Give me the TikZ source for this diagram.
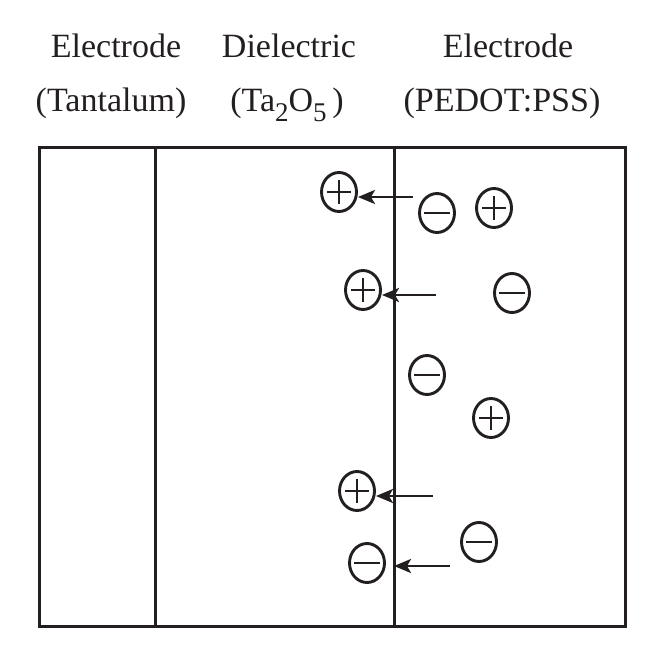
\documentclass[tikz,border=0pt]{standalone}
\usepackage{fontspec}
\setmainfont{Liberation Serif}
\usetikzlibrary{shapes.geometric,arrows.meta}
\definecolor{ink}{HTML}{231F20}
\begin{document}
\begin{tikzpicture}[x=1pt,y=-1pt,
  lbl/.style={anchor=base,inner sep=0,text=ink,font=\fontsize{34}{40}\selectfont},
  frame/.style={draw=ink,line width=3pt},
  ion/.style={ellipse,draw=ink,line width=2.9pt,minimum width=35pt,minimum height=39pt,inner sep=0},
  posion/.style={ion,path picture={
      \draw[ink,line width=2.9pt] ([xshift=-12pt]path picture bounding box.center) -- ++(24,0);
      \draw[ink,line width=2.9pt] ([yshift=-12pt]path picture bounding box.center) -- ++(0,-24);}},
  negion/.style={ion,path picture={
      \draw[ink,line width=2.9pt] ([xshift=-13pt]path picture bounding box.center) -- ++(26,0);}},
  arr/.style={draw=ink,line width=2.8pt,-{Stealth[length=17pt,width=14pt,inset=4pt]}}]
\useasboundingbox (0,0) rectangle (659,660);
% labels
\node[lbl] (t1) at (116,58) {Electrode};
\node[lbl] (t2) at (289,58) {Dielectric};
\node[lbl] (t3) at (508,58) {Electrode};
\node[lbl] (s1) at (111,112) {(Tantalum)};
\node[lbl] (s2) at (287,112) {(Ta\raisebox{-0.28em}{\fontsize{27}{27}\selectfont 2}O\raisebox{-0.28em}{\fontsize{27}{27}\selectfont 5}\,)};
\node[lbl] (s3) at (502,112) {(PEDOT:PSS)};
% frame
\draw[frame] (39,148) rectangle (625,626);
\draw[frame] (155,148) -- (155,626);
\draw[frame] (394,148) -- (394,626);
% ions
\node[posion] (p1) at (339,192) {};
\node[negion] (n1) at (437,213) {};
\node[posion] (p2) at (494,208) {};
\node[posion] (p3) at (363,290) {};
\node[negion] (n2) at (512,293) {};
\node[negion] (n3) at (427,375) {};
\node[posion] (p4) at (491,418) {};
\node[posion] (p5) at (357,491) {};
\node[negion] (n4) at (479,542) {};
\node[negion] (n5) at (367,563) {};
% arrows
\coordinate (a1) at (413,197);
\coordinate (a2) at (436,295);
\coordinate (a3) at (433,496);
\coordinate (a4) at (450,566);
\coordinate (e4) at (394,566);
\draw[arr] (a1) -- (a1 -| p1.east);
\draw[arr] (a2) -- (a2 -| p3.east);
\draw[arr] (a3) -- (a3 -| p5.east);
\draw[arr] (a4) -- (e4);
\end{tikzpicture}
\end{document}
